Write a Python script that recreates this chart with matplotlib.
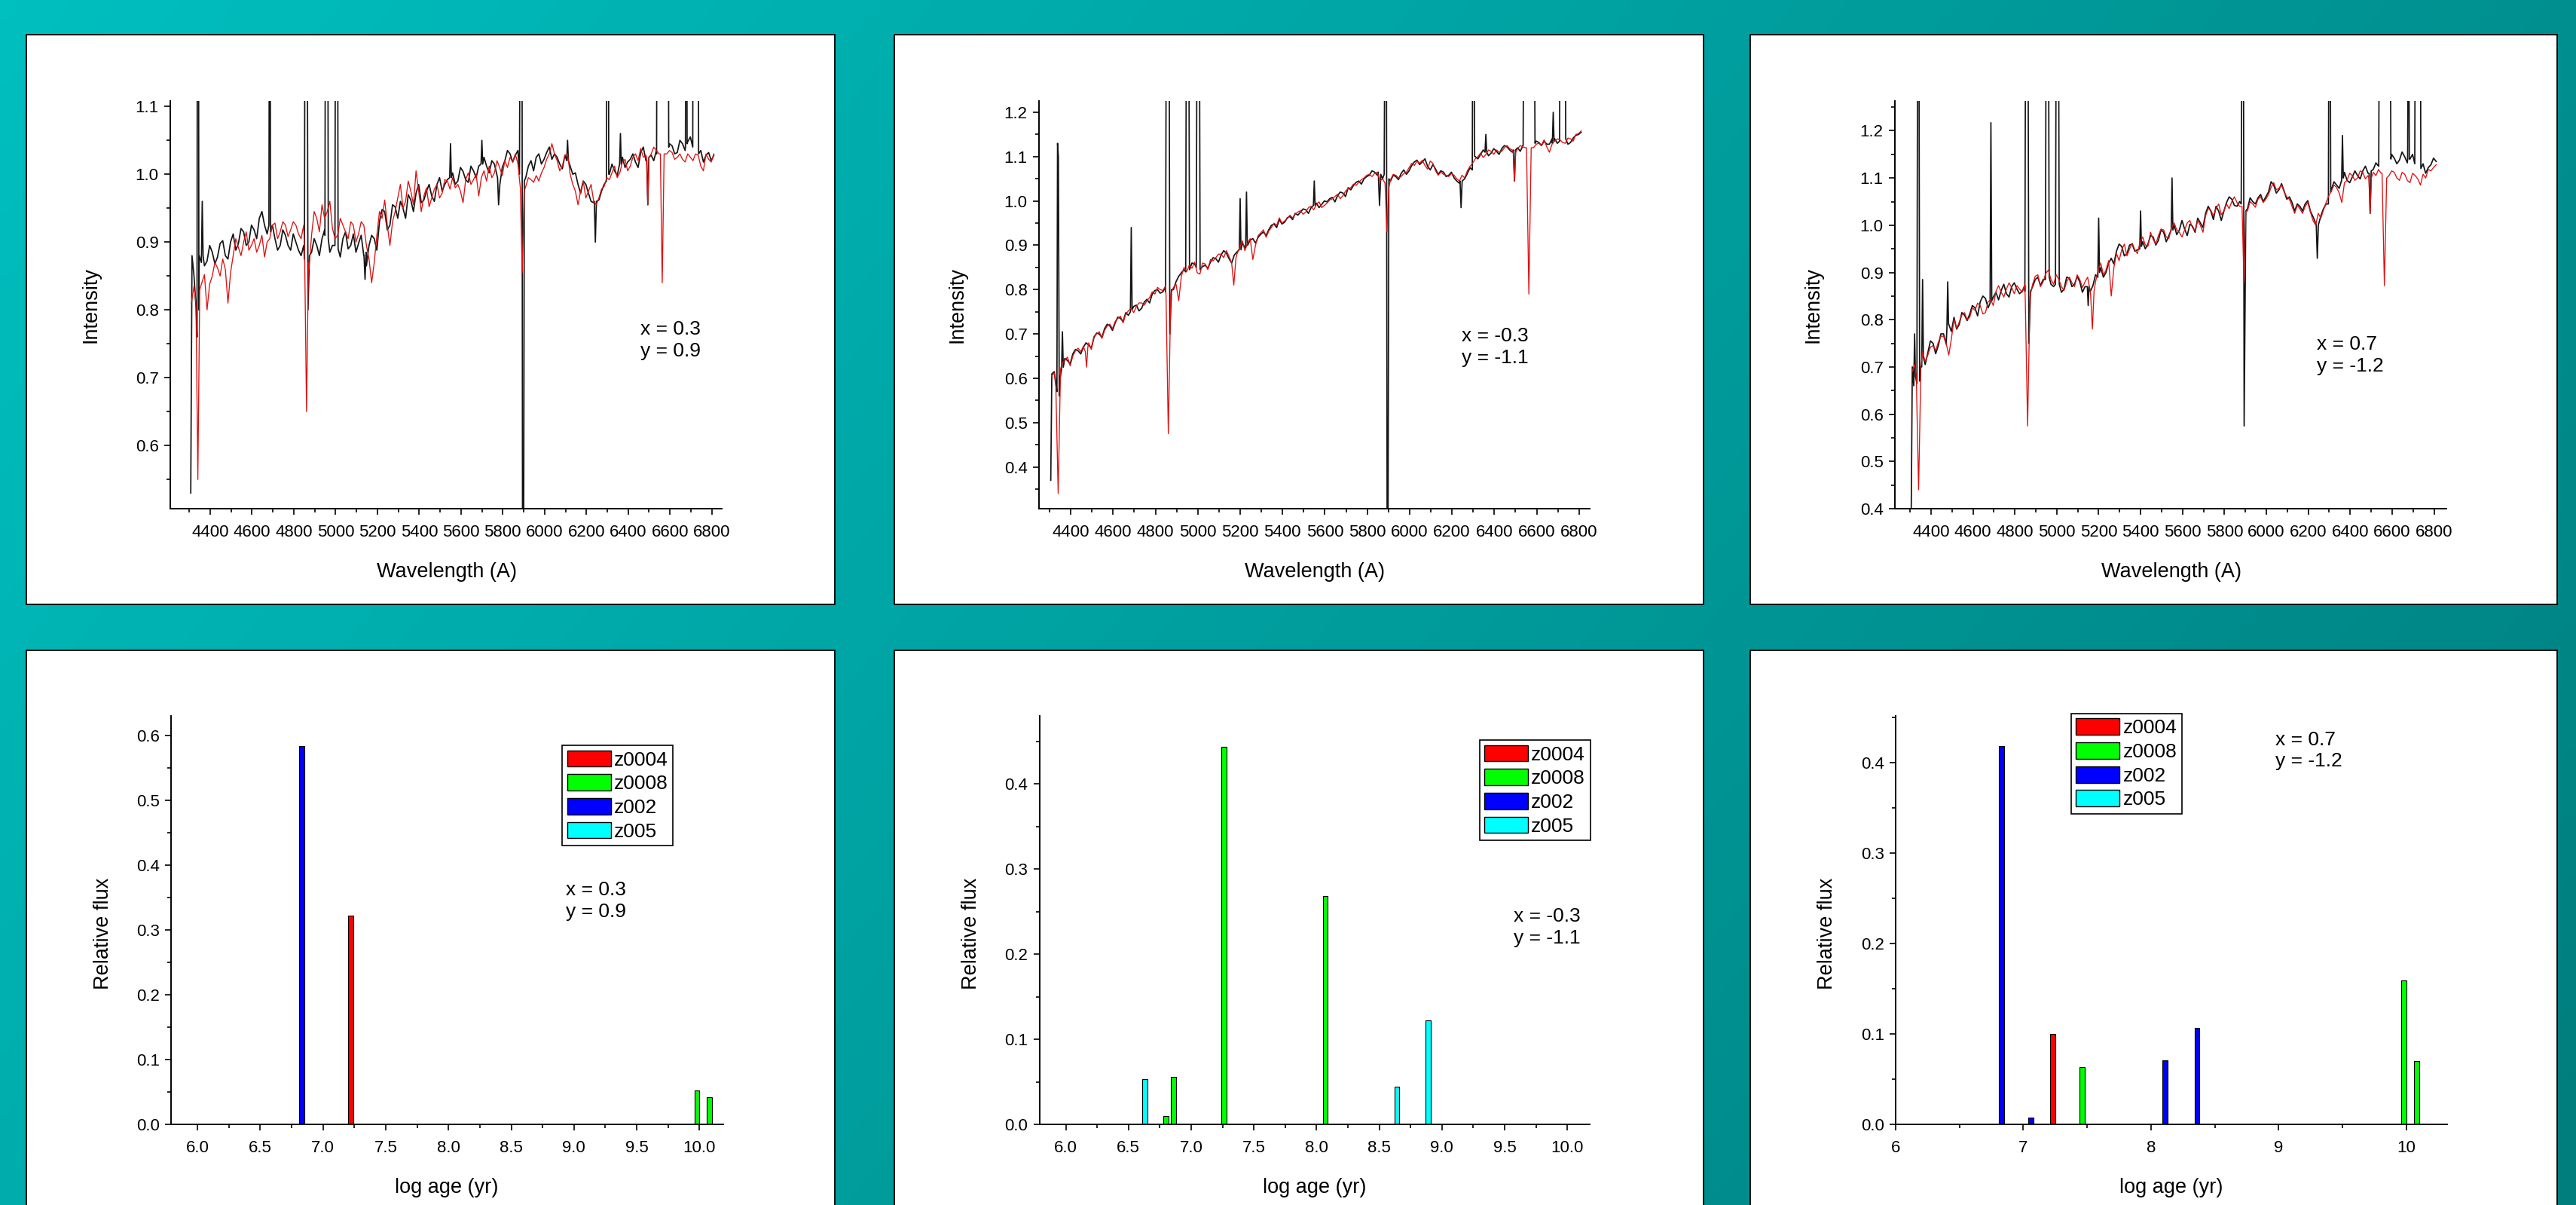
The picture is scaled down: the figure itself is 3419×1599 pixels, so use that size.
import numpy as np
import matplotlib
matplotlib.use("Agg")
import matplotlib.pyplot as plt
from matplotlib.patches import Rectangle, Patch
from matplotlib.ticker import MultipleLocator, FormatStrFormatter

plt.rcParams['font.family'] = ['Liberation Sans', 'DejaVu Sans']

# sampled spectra: main samples every 25 A from 4310 to 6810,
# plus the samples half way between them (4322.5, 4347.5, ...)
wave = np.arange(4310, 6811, 25)
wave_mid = wave[:-1] + 12.5

obs1 = [0.880, 0.800, 0.890, 0.872, 0.885, 0.878, 0.902, 0.875, 0.912, 0.898,
        0.915, 0.900, 0.918, 0.935, 0.925, 0.915, 0.905, 0.895, 0.910, 0.888,
        0.900, 0.880, 0.860, 0.885, 0.895, 0.905, 0.915, 0.895, 0.885, 0.905,
        0.890, 0.912, 0.898, 0.880, 0.895, 0.905, 0.930, 0.945, 0.925, 0.952,
        0.960, 0.935, 0.962, 0.972, 0.958, 0.975, 0.968, 0.985, 0.975, 0.992,
        1.002, 0.990, 1.004, 0.988, 1.005, 1.012, 1.025, 1.002, 1.015, 0.975,
        1.020, 1.030, 1.028, 0.990, 0.995, 1.020, 1.025, 1.015, 1.032, 1.022,
        1.025, 1.008, 1.030, 1.000, 0.985, 0.990, 0.972, 0.958, 0.962, 0.985,
        1.000, 1.005, 1.020, 1.010, 1.022, 1.018, 1.032, 1.020, 1.028, 1.035,
        1.030, 1.030, 1.042, 1.032, 1.045, 1.048, 1.040, 1.028, 1.018, 1.032,
        1.028]
obs1_mid = [0.850, 0.880, 0.865, 0.895, 0.868, 0.898, 0.880, 0.900, 0.888, 0.920,
            0.895, 0.925, 0.905, 0.945, 0.912, 0.925, 0.888, 0.918, 0.895, 0.912,
            0.888, 0.895, 0.860, 0.905, 0.880, 0.918, 0.885, 0.890, 0.878, 0.915,
            0.895, 0.885, 0.910, 0.865, 0.910, 0.888, 0.948, 0.918, 0.955, 0.935,
            0.950, 0.970, 0.945, 0.985, 0.962, 0.985, 0.960, 0.995, 0.985, 0.990,
            0.985, 1.010, 0.992, 1.012, 0.995, 1.010, 1.012, 1.020, 0.998, 1.010,
            1.035, 1.018, 1.035, 1.000, 1.012, 1.005, 1.030, 1.022, 1.040, 1.030,
            1.015, 1.028, 1.012, 1.002, 0.972, 0.985, 0.960, 0.975, 0.975, 0.990,
            1.015, 0.998, 1.025, 1.018, 1.030, 1.010, 1.040, 1.025, 1.020, 1.030,
            1.030, 1.045, 1.030, 1.050, 1.035, 1.055, 1.035, 1.035, 1.028, 1.020]
mod1 = [0.810, 0.820, 0.840, 0.800, 0.850, 0.862, 0.875, 0.810, 0.880, 0.892,
        0.900, 0.888, 0.905, 0.895, 0.878, 0.905, 0.928, 0.915, 0.925, 0.918,
        0.925, 0.905, 0.880, 0.910, 0.935, 0.955, 0.945, 0.920, 0.910, 0.925,
        0.905, 0.925, 0.912, 0.925, 0.875, 0.870, 0.945, 0.962, 0.895, 0.945,
        0.985, 0.960, 0.975, 1.005, 0.945, 0.980, 0.965, 0.985, 0.972, 0.990,
        0.995, 0.985, 0.958, 1.002, 0.992, 0.968, 1.005, 1.012, 1.002, 1.010,
        1.020, 1.025, 1.030, 0.980, 0.982, 0.992, 0.998, 1.002, 1.022, 1.045,
        1.020, 1.012, 1.030, 0.985, 0.955, 0.990, 0.975, 0.960, 0.965, 0.982,
        0.992, 1.012, 1.002, 1.022, 1.012, 1.030, 1.038, 1.028, 1.030, 1.035,
        1.030, 1.030, 1.032, 1.025, 1.022, 1.030, 1.020, 1.028, 1.005, 1.022,
        1.030]
mod1_mid = [0.835, 0.845, 0.852, 0.838, 0.870, 0.850, 0.860, 0.855, 0.905, 0.880,
            0.915, 0.895, 0.885, 0.910, 0.900, 0.925, 0.905, 0.930, 0.908, 0.930,
            0.912, 0.925, 0.860, 0.945, 0.915, 0.935, 0.960, 0.905, 0.935, 0.915,
            0.930, 0.900, 0.930, 0.895, 0.840, 0.910, 0.935, 0.925, 0.930, 0.965,
            0.950, 0.990, 0.955, 0.975, 0.968, 0.952, 0.978, 0.965, 0.992, 0.978,
            0.980, 0.975, 0.992, 0.985, 1.000, 0.995, 0.990, 0.995, 1.020, 0.998,
            1.010, 1.018, 1.015, 0.970, 0.995, 0.988, 0.990, 1.010, 1.030, 1.030,
            1.005, 1.028, 1.000, 0.975, 0.975, 0.965, 0.985, 0.955, 0.978, 0.995,
            1.002, 0.995, 1.018, 1.005, 1.025, 1.020, 1.025, 1.035, 1.040, 1.030,
            1.030, 1.035, 1.022, 1.030, 1.018, 1.025, 1.030, 1.012, 1.030, 1.018]

obs2 = [0.600, 0.585, 0.630, 0.640, 0.655, 0.662, 0.670, 0.675, 0.692, 0.700,
        0.712, 0.718, 0.725, 0.735, 0.748, 0.752, 0.765, 0.758, 0.778, 0.790,
        0.800, 0.795, 0.770, 0.800, 0.830, 0.845, 0.848, 0.858, 0.840, 0.855,
        0.862, 0.870, 0.878, 0.882, 0.860, 0.885, 0.905, 0.900, 0.915, 0.918,
        0.930, 0.935, 0.948, 0.958, 0.952, 0.965, 0.972, 0.975, 0.980, 0.985,
        0.995, 0.992, 0.998, 1.008, 1.012, 1.018, 1.030, 1.035, 1.045, 1.050,
        1.058, 1.065, 1.040, 1.060, 1.045, 1.055, 1.062, 1.060, 1.080, 1.092,
        1.088, 1.078, 1.082, 1.060, 1.065, 1.058, 1.052, 1.040, 1.050, 1.075,
        1.100, 1.105, 1.112, 1.108, 1.112, 1.118, 1.122, 1.110, 1.120, 1.125,
        1.130, 1.125, 1.132, 1.135, 1.128, 1.140, 1.135, 1.142, 1.132, 1.148,
        1.155]
obs2_mid = [0.615, 0.620, 0.645, 0.632, 0.665, 0.655, 0.680, 0.668, 0.702, 0.692,
            0.722, 0.708, 0.738, 0.728, 0.742, 0.762, 0.752, 0.772, 0.770, 0.798,
            0.792, 0.805, 0.780, 0.818, 0.838, 0.832, 0.860, 0.845, 0.852, 0.848,
            0.872, 0.862, 0.888, 0.870, 0.878, 0.892, 0.895, 0.912, 0.905, 0.925,
            0.922, 0.945, 0.940, 0.948, 0.962, 0.958, 0.968, 0.982, 0.972, 0.995,
            0.985, 1.000, 1.005, 0.998, 1.020, 1.010, 1.025, 1.042, 1.038, 1.055,
            1.068, 1.058, 1.050, 1.052, 1.058, 1.048, 1.070, 1.068, 1.088, 1.082,
            1.095, 1.070, 1.072, 1.068, 1.055, 1.065, 1.045, 1.055, 1.062, 1.088,
            1.095, 1.115, 1.102, 1.118, 1.105, 1.125, 1.115, 1.118, 1.112, 1.118,
            1.122, 1.135, 1.125, 1.128, 1.140, 1.130, 1.145, 1.128, 1.142, 1.150]
mod2 = [0.605, 0.590, 0.635, 0.648, 0.650, 0.668, 0.672, 0.680, 0.695, 0.705,
        0.708, 0.722, 0.728, 0.740, 0.745, 0.758, 0.762, 0.770, 0.775, 0.795,
        0.805, 0.798, 0.790, 0.805, 0.775, 0.850, 0.855, 0.862, 0.835, 0.858,
        0.868, 0.872, 0.880, 0.888, 0.860, 0.880, 0.910, 0.905, 0.868, 0.922,
        0.935, 0.932, 0.950, 0.962, 0.955, 0.968, 0.970, 0.978, 0.975, 0.988,
        0.992, 0.985, 0.995, 1.005, 1.015, 1.012, 1.028, 1.038, 1.042, 1.052,
        1.060, 1.062, 1.045, 1.055, 1.048, 1.058, 1.055, 1.065, 1.085, 1.090,
        1.092, 1.072, 1.085, 1.058, 1.060, 1.055, 1.058, 1.045, 1.052, 1.078,
        1.095, 1.108, 1.105, 1.112, 1.115, 1.112, 1.125, 1.115, 1.118, 1.122,
        1.125, 1.120, 1.130, 1.138, 1.110, 1.135, 1.138, 1.130, 1.140, 1.150,
        1.158]
mod2_mid = [0.612, 0.610, 0.640, 0.628, 0.662, 0.660, 0.675, 0.665, 0.700, 0.690,
            0.718, 0.712, 0.735, 0.725, 0.752, 0.748, 0.770, 0.765, 0.782, 0.790,
            0.800, 0.808, 0.790, 0.812, 0.830, 0.840, 0.848, 0.838, 0.860, 0.845,
            0.865, 0.880, 0.872, 0.875, 0.885, 0.895, 0.888, 0.915, 0.900, 0.928,
            0.918, 0.940, 0.945, 0.950, 0.960, 0.962, 0.975, 0.970, 0.985, 0.980,
            0.998, 0.990, 1.002, 1.010, 1.005, 1.022, 1.030, 1.035, 1.048, 1.058,
            1.055, 1.065, 1.050, 1.050, 1.060, 1.052, 1.062, 1.075, 1.080, 1.085,
            1.080, 1.090, 1.068, 1.065, 1.058, 1.062, 1.050, 1.058, 1.068, 1.085,
            1.100, 1.098, 1.115, 1.105, 1.110, 1.120, 1.118, 1.110, 1.125, 1.120,
            1.120, 1.128, 1.125, 1.122, 1.128, 1.140, 1.132, 1.142, 1.135, 1.152]

obs3 = [0.700, 0.670, 0.720, 0.730, 0.750, 0.745, 0.770, 0.790, 0.805, 0.790,
        0.810, 0.812, 0.825, 0.838, 0.845, 0.832, 0.858, 0.862, 0.855, 0.870,
        0.865, 0.860, 0.830, 0.870, 0.890, 0.885, 0.895, 0.870, 0.880, 0.865,
        0.888, 0.875, 0.880, 0.870, 0.860, 0.895, 0.910, 0.900, 0.930, 0.945,
        0.955, 0.940, 0.960, 0.948, 0.965, 0.960, 0.975, 0.968, 0.985, 0.978,
        1.000, 0.990, 0.992, 1.002, 0.985, 1.005, 1.025, 1.030, 1.040, 1.010,
        1.048, 1.055, 1.040, 1.045, 1.035, 1.050, 1.058, 1.050, 1.070, 1.085,
        1.075, 1.072, 1.060, 1.030, 1.040, 1.045, 1.030, 1.005, 1.020, 1.045,
        1.075, 1.085, 1.100, 1.095, 1.102, 1.105, 1.115, 1.110, 1.118, 1.125,
        1.140, 1.135, 1.142, 1.138, 1.145, 1.140, 1.130, 1.118, 1.110, 1.128,
        1.135]
obs3_mid = [0.680, 0.700, 0.705, 0.755, 0.728, 0.770, 0.748, 0.775, 0.780, 0.815,
            0.798, 0.830, 0.808, 0.850, 0.825, 0.848, 0.842, 0.875, 0.848, 0.878,
            0.855, 0.872, 0.840, 0.885, 0.872, 0.905, 0.875, 0.885, 0.858, 0.890,
            0.870, 0.892, 0.858, 0.885, 0.872, 0.905, 0.890, 0.920, 0.918, 0.960,
            0.935, 0.958, 0.945, 0.975, 0.950, 0.978, 0.958, 0.990, 0.965, 0.995,
            0.980, 1.010, 0.978, 0.998, 1.015, 0.995, 1.040, 1.012, 1.030, 1.030,
            1.060, 1.042, 1.050, 1.040, 1.058, 1.045, 1.065, 1.060, 1.092, 1.068,
            1.088, 1.055, 1.048, 1.045, 1.030, 1.052, 1.018, 1.010, 1.035, 1.060,
            1.092, 1.078, 1.112, 1.090, 1.115, 1.098, 1.125, 1.112, 1.132, 1.140,
            1.140, 1.150, 1.130, 1.155, 1.132, 1.150, 1.120, 1.130, 1.122, 1.142]
mod3 = [0.690, 0.680, 0.730, 0.725, 0.745, 0.752, 0.765, 0.725, 0.800, 0.795,
        0.815, 0.805, 0.820, 0.830, 0.815, 0.842, 0.860, 0.858, 0.865, 0.868,
        0.872, 0.858, 0.840, 0.875, 0.895, 0.880, 0.905, 0.875, 0.885, 0.862,
        0.890, 0.870, 0.885, 0.880, 0.860, 0.880, 0.920, 0.905, 0.850, 0.940,
        0.948, 0.935, 0.962, 0.940, 0.975, 0.955, 0.970, 0.978, 0.990, 0.972,
        1.005, 0.985, 0.990, 1.010, 0.988, 1.000, 1.020, 1.032, 1.035, 1.022,
        1.045, 1.050, 1.048, 1.040, 1.030, 1.045, 1.055, 1.048, 1.065, 1.090,
        1.078, 1.070, 1.055, 1.025, 1.035, 1.040, 1.028, 1.000, 1.015, 1.048,
        1.072, 1.080, 1.048, 1.095, 1.105, 1.100, 1.112, 1.105, 1.112, 1.118,
        1.110, 1.105, 1.112, 1.095, 1.108, 1.090, 1.105, 1.085, 1.100, 1.115,
        1.128]
mod3_mid = [0.705, 0.710, 0.712, 0.742, 0.735, 0.765, 0.750, 0.760, 0.782, 0.810,
            0.800, 0.825, 0.835, 0.812, 0.838, 0.830, 0.872, 0.848, 0.878, 0.855,
            0.865, 0.875, 0.850, 0.892, 0.870, 0.898, 0.885, 0.895, 0.870, 0.880,
            0.878, 0.895, 0.868, 0.890, 0.840, 0.905, 0.895, 0.925, 0.910, 0.925,
            0.960, 0.950, 0.948, 0.965, 0.958, 0.985, 0.960, 0.992, 0.975, 0.995,
            0.990, 0.975, 1.005, 0.995, 1.010, 0.985, 1.035, 1.020, 1.045, 1.030,
            1.035, 1.060, 1.040, 1.040, 1.050, 1.038, 1.060, 1.055, 1.080, 1.075,
            1.085, 1.060, 1.040, 1.042, 1.025, 1.048, 1.010, 1.025, 1.032, 1.062,
            1.085, 1.068, 1.090, 1.110, 1.095, 1.115, 1.098, 1.120, 1.105, 1.110,
            1.110, 1.115, 1.100, 1.112, 1.095, 1.110, 1.098, 1.108, 1.118, 1.122]

# narrow lines: (wavelength, value) points that replace the samples inside their span
obs1_lines = [
    [(4307, 0.53), (4313, 0.88)],
    [(4333, 0.80), (4337, 0.76), (4339, 1.6), (4343, 1.6), (4346, 0.80)],
    [(4358, 0.87), (4362, 0.96), (4366, 0.88)],
    [(4681, 0.925), (4685, 1.6), (4689, 0.915)],
    [(4851, 0.875), (4855, 1.6), (4862, 1.6), (4868, 0.80), (4875, 0.88)],
    [(4949, 0.91), (4953, 1.6), (4961, 1.6), (4965, 0.905)],
    [(4997, 0.895), (5001, 1.6), (5008, 1.6), (5012, 0.89)],
    [(5136, 0.88), (5141, 0.845), (5146, 0.885)],
    [(5546, 0.995), (5550, 1.045), (5554, 0.995)],
    [(5696, 1.015), (5700, 1.05), (5704, 1.015)],
    [(5775, 0.995), (5780, 0.955), (5786, 0.985)],
    [(5880, 1.0), (5886, 1.6), (5891, 1.6), (5895, 0.3), (5899, 0.3), (5903, 0.99)],
    [(6106, 1.02), (6110, 1.05), (6114, 1.02)],
    [(6238, 0.96), (6243, 0.90), (6248, 0.96)],
    [(6296, 0.99), (6299, 1.6), (6304, 1.6), (6307, 1.0)],
    [(6359, 1.015), (6363, 1.06), (6367, 1.015)],
    [(6489, 1.02), (6494, 0.955), (6499, 1.025)],
    [(6536, 1.03), (6540, 1.6), (6590, 1.6), (6594, 1.04)],
    [(6674, 1.04), (6678, 1.6), (6682, 1.045)],
    [(6709, 1.04), (6712, 1.6), (6734, 1.6), (6737, 1.03)],
]
mod1_lines = [
    [(4332, 0.81), (4341, 0.55), (4350, 0.83)],
    [(4852, 0.88), (4861, 0.65), (4870, 0.87)],
    [(5884, 0.98), (5893, 0.855), (5902, 0.975)],
    [(6488, 1.025), (6494, 0.955), (6500, 1.025)],
    [(6554, 1.03), (6563, 0.84), (6572, 1.03)],
]

obs2_lines = [
    [(4306, 0.37), (4311, 0.61)],
    [(4330, 0.59), (4335, 0.57), (4338, 1.13), (4342, 1.10), (4346, 0.56), (4350, 0.60)],
    [(4357, 0.62), (4361, 0.705), (4365, 0.625)],
    [(4682, 0.75), (4686, 0.94), (4690, 0.755)],
    [(4848, 0.795), (4852, 1.6), (4864, 1.6), (4868, 0.70), (4876, 0.80)],
    [(4943, 0.84), (4947, 1.6), (4957, 1.6), (4961, 0.845)],
    [(4993, 0.85), (4997, 1.6), (5007, 1.6), (5011, 0.845)],
    [(5196, 0.89), (5200, 1.005), (5204, 0.89)],
    [(5226, 0.895), (5230, 1.02), (5234, 0.90)],
    [(5546, 0.99), (5550, 1.045), (5554, 0.99)],
    [(5852, 1.065), (5858, 0.99), (5864, 1.06)],
    [(5880, 1.06), (5885, 1.6), (5890, 1.6), (5894, 0.2), (5898, 0.2), (5902, 1.05)],
    [(6238, 1.045), (6243, 0.985), (6248, 1.045)],
    [(6296, 1.07), (6299, 1.6), (6304, 1.6), (6307, 1.10)],
    [(6356, 1.11), (6360, 1.15), (6364, 1.11)],
    [(6490, 1.115), (6495, 1.045), (6500, 1.115)],
    [(6536, 1.125), (6540, 1.6), (6588, 1.6), (6592, 1.13)],
    [(6674, 1.13), (6678, 1.20), (6682, 1.135)],
    [(6708, 1.135), (6711, 1.6), (6734, 1.6), (6737, 1.14)],
]
mod2_lines = [
    [(4330, 0.58), (4341, 0.34), (4352, 0.62)],
    [(4469, 0.66), (4475, 0.625), (4481, 0.67)],
    [(4850, 0.79), (4861, 0.475), (4872, 0.78)],
    [(5160, 0.86), (5170, 0.81), (5180, 0.87)],
    [(5884, 1.04), (5893, 0.93), (5902, 1.03)],
    [(6489, 1.11), (6495, 1.045), (6501, 1.11)],
    [(6552, 1.12), (6563, 0.79), (6574, 1.12)],
]

obs3_lines = [
    [(4306, 0.40), (4311, 0.70)],
    [(4318, 0.66), (4322, 0.77), (4326, 0.68)],
    [(4333, 0.665), (4337, 1.6), (4342, 1.6), (4346, 0.67)],
    [(4356, 0.70), (4360, 0.885), (4364, 0.72)],
    [(4476, 0.78), (4480, 0.88), (4484, 0.79)],
    [(4682, 0.835), (4686, 1.217), (4690, 0.84)],
    [(4848, 0.86), (4852, 1.6), (4862, 1.6), (4867, 0.75), (4875, 0.86)],
    [(4946, 0.885), (4950, 1.6), (4960, 1.6), (4964, 0.89)],
    [(4994, 0.875), (4998, 1.6), (5008, 1.6), (5012, 0.875)],
    [(5146, 0.87), (5150, 0.83), (5154, 0.87)],
    [(5196, 0.89), (5200, 1.015), (5204, 0.90)],
    [(5396, 0.95), (5400, 1.03), (5404, 0.955)],
    [(5546, 0.99), (5550, 1.10), (5554, 0.99)],
    [(5880, 1.045), (5885, 1.6), (5890, 1.6), (5894, 0.575), (5898, 0.8), (5902, 1.03)],
    [(6238, 1.00), (6243, 0.93), (6248, 1.00)],
    [(6296, 1.045), (6299, 1.6), (6304, 1.6), (6307, 1.07)],
    [(6359, 1.095), (6363, 1.19), (6367, 1.10)],
    [(6490, 1.11), (6495, 1.025), (6500, 1.115)],
    [(6536, 1.125), (6540, 1.6), (6590, 1.6), (6594, 1.14)],
    [(6674, 1.14), (6678, 1.6), (6682, 1.14)],
    [(6708, 1.13), (6711, 1.6), (6734, 1.6), (6737, 1.12)],
]
mod3_lines = [
    [(4330, 0.68), (4341, 0.44), (4352, 0.70)],
    [(4850, 0.84), (4861, 0.575), (4872, 0.84)],
    [(5162, 0.85), (5170, 0.78), (5178, 0.86)],
    [(5884, 1.04), (5893, 0.88), (5902, 1.03)],
    [(6489, 1.10), (6495, 1.025), (6501, 1.10)],
    [(6552, 1.11), (6563, 0.872), (6574, 1.10)],
]

params = ["x = 0.3\ny = 0.9", "x = -0.3\ny = -1.1", "x = 0.7\ny = -1.2"]

# age distributions (log age, relative flux) per metallicity
metals = ["z0004", "z0008", "z002", "z005"]
metal_colors = ["#ff0000", "#00ff00", "#0000ff", "#00ffff"]

age1 = {"z0004": [7.22], "z0008": [9.98, 10.08], "z002": [6.83], "z005": []}
flux1 = {"z0004": [0.322], "z0008": [0.052, 0.042], "z002": [0.583], "z005": []}
age2 = {"z0004": [], "z0008": [6.80, 6.86, 7.26, 8.07], "z002": [], "z005": [6.63, 8.64, 8.89]}
flux2 = {"z0004": [], "z0008": [0.010, 0.056, 0.444, 0.268], "z002": [], "z005": [0.053, 0.044, 0.122]}
age3 = {"z0004": [7.23], "z0008": [7.46, 9.98, 10.08], "z002": [6.83, 7.06, 8.11, 8.36], "z005": []}
flux3 = {"z0004": [0.100], "z0008": [0.063, 0.159, 0.070], "z002": [0.419, 0.0075, 0.071, 0.107], "z005": []}


def with_lines(values, mids, lines):
    w = np.concatenate([wave, wave_mid]).astype(float)
    f = np.concatenate([values, mids]).astype(float)
    keep = np.ones(len(w), bool)
    xs, ys = [], []
    for seg in lines:
        keep &= ~((w >= seg[0][0]) & (w <= seg[-1][0]))
        for a, b in seg:
            xs.append(a)
            ys.append(b)
    x = np.concatenate([w[keep], xs])
    y = np.concatenate([f[keep], ys])
    order = np.argsort(x)
    return x[order], y[order]


def style(ax):
    for s in ["top", "right"]:
        ax.spines[s].set_visible(False)
    for s in ["left", "bottom"]:
        ax.spines[s].set_linewidth(1.4)
    ax.tick_params(which="major", direction="out", length=6, width=1.2, labelsize=16)
    ax.tick_params(which="minor", direction="out", length=3.5, width=1.2)
    ax.tick_params(axis="x", which="both", pad=9)
    ax.tick_params(axis="y", which="both", pad=5)


fig = plt.figure(figsize=(34.19, 15.99), dpi=100)

# teal gradient background and white panels
bg = fig.add_axes([0, 0, 1, 1])
gy, gx = np.mgrid[0:1:160j, 0:1:342j]
t = 0.72 * gx + 0.28 * gy
c0 = np.array([0.0, 0.75, 0.75])
c1 = np.array([0.0, 0.49, 0.49])
img = c0[None, None, :] * (1 - t[..., None]) + c1[None, None, :] * t[..., None]
bg.imshow(img, extent=[0, 1, 0, 1], aspect="auto", origin="upper", interpolation="bilinear")
bg.set_xlim(0, 1)
bg.set_ylim(0, 1)
bg.axis("off")
for x0, w in [(0.0102, 0.3138), (0.3472, 0.3141), (0.6794, 0.3132)]:
    bg.add_patch(Rectangle((x0, 0.4984), w, 0.4728, transform=bg.transAxes,
                           facecolor="white", edgecolor="black", lw=1.3))
    bg.add_patch(Rectangle((x0, -0.02), w, 0.4803, transform=bg.transAxes,
                           facecolor="white", edgecolor="black", lw=1.3))

# spectra
spec_pos = [[0.0661, 0.5779, 0.2141, 0.3383],
            [0.4033, 0.5779, 0.2138, 0.3383],
            [0.7356, 0.5779, 0.2141, 0.3383]]
spec_xlim = [(4209, 6848), (4250, 6850), (4228, 6859)]
spec_ylim = [(0.507, 1.108), (0.306, 1.2255), (0.4, 1.263)]
spec_ylab_x = [-0.127, -0.130, -0.131]
spec_txt = [(0.852, 0.413), (0.767, 0.397), (0.765, 0.376)]
spec_data = [(obs1, obs1_mid, obs1_lines, mod1, mod1_mid, mod1_lines),
             (obs2, obs2_mid, obs2_lines, mod2, mod2_mid, mod2_lines),
             (obs3, obs3_mid, obs3_lines, mod3, mod3_mid, mod3_lines)]

for i, (obs, obs_m, obs_l, mod, mod_m, mod_l) in enumerate(spec_data):
    ax = fig.add_axes(spec_pos[i])
    ax.set_facecolor("white")
    xo, yo = with_lines(obs, obs_m, obs_l)
    xm, ym = with_lines(mod, mod_m, mod_l)
    ax.plot(xo, yo, color="#151515", lw=1.25)
    ax.plot(xm, ym, color="#e01010", lw=0.95)
    ax.set_xlim(*spec_xlim[i])
    ax.set_ylim(*spec_ylim[i])
    ax.xaxis.set_major_locator(MultipleLocator(200))
    ax.xaxis.set_minor_locator(MultipleLocator(100))
    ax.yaxis.set_major_locator(MultipleLocator(0.1))
    ax.yaxis.set_minor_locator(MultipleLocator(0.05))
    ax.yaxis.set_major_formatter(FormatStrFormatter("%.1f"))
    style(ax)
    ax.set_xlabel("Wavelength (A)", fontsize=19.5)
    ax.set_ylabel("Intensity", fontsize=19.5)
    ax.xaxis.set_label_coords(0.501, -0.131)
    ax.yaxis.set_label_coords(spec_ylab_x[i], 0.5)
    ax.text(spec_txt[i][0], spec_txt[i][1], params[i], transform=ax.transAxes,
            fontsize=19, ha="left", va="center", linespacing=1.25)

# age bars
bar_pos = [[0.0664, 0.0669, 0.2144, 0.3390],
           [0.4035, 0.0669, 0.2137, 0.3390],
           [0.7359, 0.0669, 0.2141, 0.3390]]
bar_xlim = [(5.79, 10.19), (5.79, 10.18), (6.0, 10.32)]
bar_ylim = [(0, 0.63), (0, 0.48), (0, 0.452)]
bar_ylab_x = [-0.1056, -0.1065, -0.1066]
bar_leg = [(0.708, 0.928), (0.7995, 0.941), (0.318, 1.006)]
bar_txt = [(0.715, 0.547), (0.861, 0.483), (0.689, 0.915)]
bar_data = [(age1, flux1), (age2, flux2), (age3, flux3)]

for i, (ages, fluxes) in enumerate(bar_data):
    ax = fig.add_axes(bar_pos[i])
    ax.set_facecolor("white")
    for m, c in zip(metals, metal_colors):
        if ages[m]:
            ax.bar(ages[m], fluxes[m], width=0.04, color=c, edgecolor="black", linewidth=0.8)
    ax.set_xlim(*bar_xlim[i])
    ax.set_ylim(*bar_ylim[i])
    if i < 2:
        ax.xaxis.set_major_locator(MultipleLocator(0.5))
        ax.xaxis.set_minor_locator(MultipleLocator(0.25))
        ax.xaxis.set_major_formatter(FormatStrFormatter("%.1f"))
    else:
        ax.xaxis.set_major_locator(MultipleLocator(1))
        ax.xaxis.set_minor_locator(MultipleLocator(0.5))
        ax.xaxis.set_major_formatter(FormatStrFormatter("%d"))
    ax.yaxis.set_major_locator(MultipleLocator(0.1))
    ax.yaxis.set_minor_locator(MultipleLocator(0.05))
    ax.yaxis.set_major_formatter(FormatStrFormatter("%.1f"))
    style(ax)
    ax.set_xlabel("log age (yr)", fontsize=19.5)
    ax.set_ylabel("Relative flux", fontsize=19.5)
    ax.xaxis.set_label_coords(0.4995, -0.131)
    ax.yaxis.set_label_coords(bar_ylab_x[i], 0.467)
    handles = [Patch(facecolor=c, edgecolor="black", linewidth=1.0) for c in metal_colors]
    leg = ax.legend(handles, metals, loc="upper left", bbox_to_anchor=bar_leg[i],
                    fontsize=19, frameon=True, fancybox=False, edgecolor="black",
                    framealpha=1, borderpad=0.25, labelspacing=0.25, handlelength=2.2,
                    handleheight=0.9, handletextpad=0.15, borderaxespad=0)
    leg.get_frame().set_linewidth(1.2)
    ax.text(bar_txt[i][0], bar_txt[i][1], params[i], transform=ax.transAxes,
            fontsize=19, ha="left", va="center", linespacing=1.25)

fig.savefig("out.png", dpi=100)
